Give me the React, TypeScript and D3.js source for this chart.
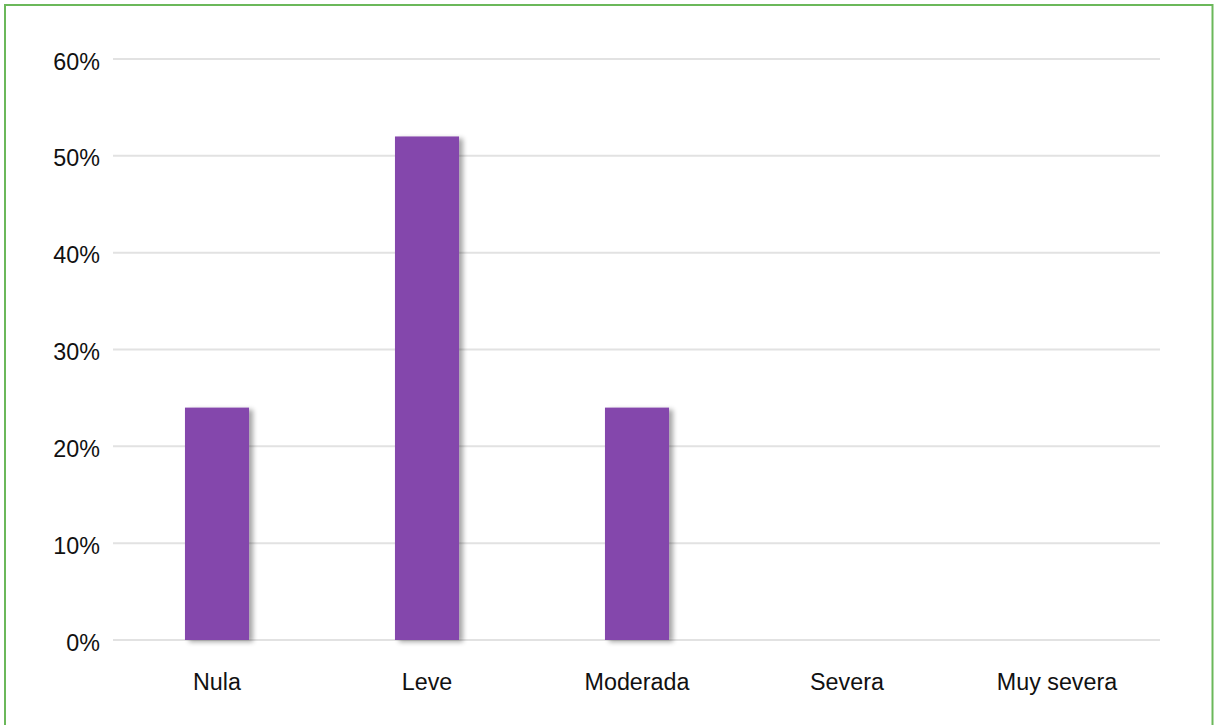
import React from "react";
import * as d3 from "d3";

const categories = ["Nula", "Leve", "Moderada", "Severa", "Muy severa"];
const values = [24, 52, 24, 0, 0];
const yTicks = [0, 10, 20, 30, 40, 50, 60];

const W = 1214;
const H = 725;

export default function App() {
  const x = d3.scaleBand<string>().domain(categories).range([112, 1162]).paddingInner(0.695).paddingOuter(0.3475);
  const y = d3.scaleLinear().domain([0, 60]).range([640, 59]);
  const bw = x.bandwidth();
  return (
    <svg width={W} height={H} style={{ position: "absolute", left: 0, top: 0, background: "#fff" }}
      fontFamily="Liberation Sans, Arial, Helvetica, sans-serif">
      <defs>
        <filter id="sh" x="-20%" y="-5%" width="150%" height="115%">
          <feGaussianBlur in="SourceAlpha" stdDeviation="2.5" />
          <feOffset dx="4" dy="2" result="b" />
          <feComponentTransfer><feFuncA type="linear" slope="0.35" /></feComponentTransfer>
          <feMerge><feMergeNode /><feMergeNode in="SourceGraphic" /></feMerge>
        </filter>
      </defs>
      <rect x={5} y={5} width={1207.5} height={760} fill="none" stroke="#6bb85a" strokeWidth={2} />
      {yTicks.map((t) => (
        <g key={t}>
          <line x1={113} x2={1160} y1={y(t)} y2={y(t)} stroke="#e2e2e2" strokeWidth={2} />
          <text x={100} y={y(t) + 10.5} textAnchor="end" fontSize={23.3} fill="#111">{t}%</text>
        </g>
      ))}
      {categories.map((c, i) => (
        <g key={c}>
          {values[i] > 0 && (
            <rect x={x(c)!} y={y(values[i])} width={bw} height={y(0) - y(values[i])} fill="#8446ac" filter="url(#sh)" />
          )}
          <text x={x(c)! + bw / 2} y={689.5} textAnchor="middle" fontSize={23.3} fill="#111">{c}</text>
        </g>
      ))}
    </svg>
  );
}
